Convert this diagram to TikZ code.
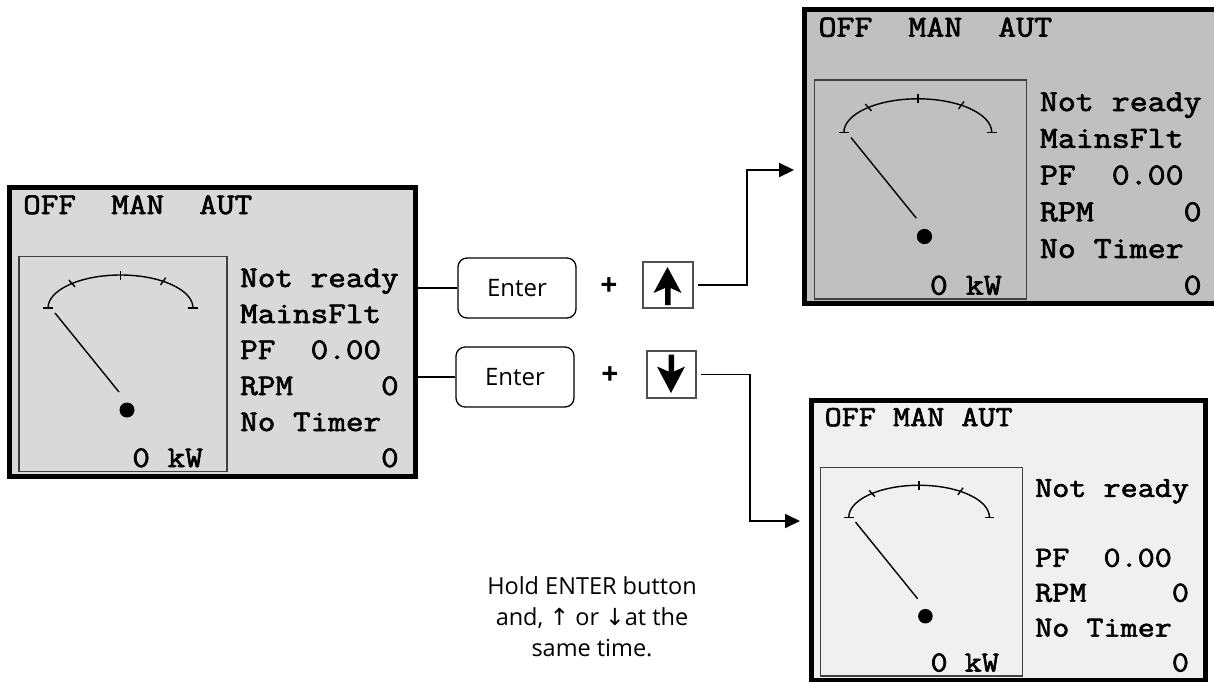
\documentclass[tikz,border=0pt]{standalone}
\usepackage{fontspec}
\setmainfont{Open Sans}
\newfontfamily\lcdfont{Latin Modern Mono}[FakeStretch=1.14, FakeBold=2.2]
\newfontfamily\symfont{DejaVu Sans}
\usetikzlibrary{arrows.meta}
\definecolor{lcdgrayA}{HTML}{D9D9D9}
\definecolor{lcdgrayB}{HTML}{C0C0C0}
\definecolor{lcdgrayC}{HTML}{F0F0F0}
\definecolor{framegray}{HTML}{404040}
\definecolor{keygray}{HTML}{505050}

\tikzset{
  lcdframe/.style={draw=black, line width=5pt, minimum width=406pt, minimum height=288.5pt, inner sep=0pt},
  gaugebox/.style={draw=framegray, line width=1.5pt, minimum width=208pt, minimum height=215pt, inner sep=0pt},
  gaugeline/.style={line width=1.4pt, black},
  lcdtxt/.style={font=\lcdfont\fontsize{30}{36}\selectfont, anchor=base west, inner sep=0pt},
  enterkey/.style={draw, line width=1.3pt, rounded corners=9pt, minimum width=118pt, minimum height=60pt, inner sep=0pt, font=\fontsize{24}{28}\selectfont},
  arrowkey/.style={draw=keygray, line width=1.3pt, minimum width=50pt, minimum height=46pt, inner sep=0pt},
  plustxt/.style={font=\bfseries\fontsize{30}{34}\selectfont, inner sep=0pt},
  conn/.style={line width=1.8pt, black},
  note/.style={font=\fontsize{23.5}{31}\selectfont, anchor=base, inner sep=0pt}
}

\newcommand{\lcdpanel}[4]{%
  \node[lcdframe, fill=#2] (#1) at (212.5,331.75) {};
  \node[lcdtxt] (#1hdr) at (23,214) {#3};
  \node[gaugebox] (#1gauge) at (123,364) {};
  \draw[gaugeline] (48,308) arc[start angle=180, end angle=360, x radius=72.5, y radius=33];
  \begin{scope}[shift={(120.5,308)}]
    \foreach \a in {228,270,306} \draw[gaugeline] (\a:68 and 28.5) -- (\a:77 and 37.5);
  \end{scope}
  \draw[gaugeline] (43,308) -- (53,308) (188,308) -- (198,308);
  \draw[gaugeline] (55,313) -- (119,392);
  \fill (127,410) circle[radius=7.5];
  \node[lcdtxt, anchor=base east] (#1kw) at (203,467) {0 kW};
  \node[lcdtxt] (#1la) at (240,287) {Not ready};
  \node[lcdtxt] (#1lb) at (240,323) {#4};
  \node[lcdtxt] (#1lc) at (240,359) {PF\ \ 0.00};
  \node[lcdtxt] (#1ld) at (240,395) {RPM\ \ \ \ \ 0};
  \node[lcdtxt] (#1le) at (240,431) {No Timer};
  \node[lcdtxt] (#1lf) at (240,467) {\ \ \ \ \ \ \ \ 0};
}

\begin{document}
\begin{tikzpicture}[x=1pt, y=-1pt]
\useasboundingbox (0,0) rectangle (1214,681);
\clip (0,0) rectangle (1214,681);

% left display
\lcdpanel{lcdL}{lcdgrayA}{OFF\ \ MAN\ \ AUT}{MainsFlt}

% top right display
\begin{scope}[shift={(794.9,-181.7)}, scale=1.02, transform shape]
\lcdpanel{lcdTR}{lcdgrayB}{OFF\ \ MAN\ \ AUT}{MainsFlt}
\end{scope}

% bottom right display
\begin{scope}[shift={(802.2,218.5)}, scale=0.97, transform shape]
\lcdpanel{lcdBR}{lcdgrayC}{OFF MAN AUT}{}
\end{scope}

% buttons
\node[enterkey] (enterA) at (517,288) {Enter};
\node[enterkey] (enterB) at (515,377) {Enter};
\node[plustxt] (plusA) at (609,287) {+};
\node[plustxt] (plusB) at (610,376) {+};
\node[arrowkey] (upkey) at (668,285) {};
\node[arrowkey, minimum width=49pt, minimum height=47pt] (downkey) at (671.5,374.5) {};
\begin{scope}[shift={(upkey.center)}]
  \fill (-0.5,-18) -- (13.5,8) -- (2.5,3) -- (2.5,20) -- (-3,20) -- (-3,3) -- (-14.5,8) -- cycle;
\end{scope}
\begin{scope}[shift={(downkey.center)}]
  \fill (-0.5,18.5) -- (13.5,-8) -- (2.5,-3) -- (2.5,-20) -- (-3,-20) -- (-3,-3) -- (-14.5,-8) -- cycle;
\end{scope}

% connectors
\draw[conn] (enterA.west) -- (enterA.west -| lcdL.east);
\draw[conn] (enterB.west) -- (enterB.west -| lcdL.east);
\coordinate (bendA) at (747,170);
\coordinate (bendB) at (750,521);
\draw[conn, shorten <=4pt, -{Triangle[length=15pt,width=14pt]}] (upkey.east) -| (bendA) -- ([xshift=-8pt]lcdTR.west |- bendA);
\draw[conn, shorten <=4pt, -{Triangle[length=15pt,width=14pt]}] (downkey.east) -| (bendB) -- ([xshift=-9pt]lcdBR.west |- bendB);

% note
\node[note] (noteA) at (592,594) {Hold ENTER button};
\node[note] (noteB) at (592,625) {and, {\symfont ↑} or {\symfont ↓}at the};
\node[note] (noteC) at (592,656) {same time.};
\end{tikzpicture}
\end{document}
